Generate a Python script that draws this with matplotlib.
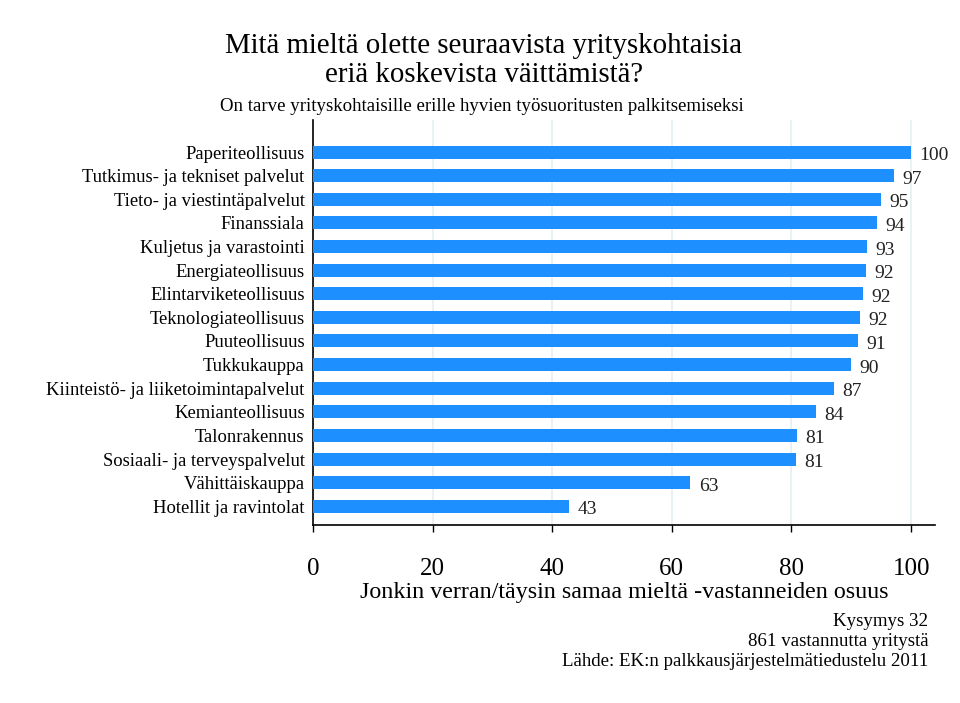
import matplotlib
matplotlib.use("Agg")
import matplotlib.pyplot as plt

plt.rcParams['font.family'] = ['Liberation Serif', 'DejaVu Serif']

# data (bar lengths, printed labels)
categories = ["Paperiteollisuus", "Tutkimus- ja tekniset palvelut",
              "Tieto- ja viestintäpalvelut", "Finanssiala",
              "Kuljetus ja varastointi", "Energiateollisuus",
              "Elintarviketeollisuus", "Teknologiateollisuus",
              "Puuteollisuus", "Tukkukauppa",
              "Kiinteistö- ja liiketoimintapalvelut", "Kemianteollisuus",
              "Talonrakennus", "Sosiaali- ja terveyspalvelut",
              "Vähittäiskauppa", "Hotellit ja ravintolat"]
shares = [100, 97.2, 95.0, 94.3, 92.6, 92.4, 92.0, 91.4,
          91.1, 89.9, 87.1, 84.1, 80.9, 80.7, 63.1, 42.8]
value_labels = [100, 97, 95, 94, 93, 92, 92, 92, 91, 90, 87, 84, 81, 81, 63, 43]
xticks = [0, 20, 40, 60, 80, 100]

fig = plt.figure(figsize=(9.6, 7.03), dpi=100)
ax = fig.add_axes([0.326, 0.253, 0.648, 0.576])

ypos = list(range(len(categories)))
ax.barh(ypos, shares, height=0.55, color='#1E8FFF', zorder=3)
for y, v, lab in zip(ypos, shares, value_labels):
    ax.annotate(str(lab), (v, y), xytext=(6, -2.5), textcoords='offset points',
                ha='left', va='center', fontsize=14, color='#222222')

ax.set_xlim(0, 104)
ax.set_ylim(len(categories) - 1 + 0.8, -1.35)
ax.set_xticks(xticks)
ax.set_xticklabels([str(t) for t in xticks], fontsize=18)
ax.set_yticks(ypos)
ax.set_yticklabels(categories, fontsize=13.4)
ax.tick_params(axis='y', length=0, pad=6)
ax.tick_params(axis='x', length=5, width=1.0, pad=19)
ax.grid(axis='x', color='#E6EFF2', linewidth=1.2, zorder=0)
for s in ['top', 'right']:
    ax.spines[s].set_visible(False)
for s in ['left', 'bottom']:
    ax.spines[s].set_linewidth(1.2)
ax.set_xlabel("Jonkin verran/täysin samaa mieltä -vastanneiden osuus",
              fontsize=17.3, labelpad=1)

fig.text(0.504, 0.934, "Mitä mieltä olette seuraavista yrityskohtaisia",
         ha='center', va='center', fontsize=20.8)
fig.text(0.504, 0.894, "eriä koskevista väittämistä?",
         ha='center', va='center', fontsize=20.8)
fig.text(0.502, 0.849, "On tarve yrityskohtaisille erille hyvien työsuoritusten palkitsemiseksi",
         ha='center', va='center', fontsize=13.6)

fig.text(0.967, 0.116, "Kysymys 32", ha='right', va='center', fontsize=13.6)
fig.text(0.967, 0.087, "861 vastannutta yritystä", ha='right', va='center', fontsize=13.6)
fig.text(0.967, 0.059, "Lähde: EK:n palkkausjärjestelmätiedustelu 2011",
         ha='right', va='center', fontsize=13.6)

fig.savefig("out.png", dpi=100)
